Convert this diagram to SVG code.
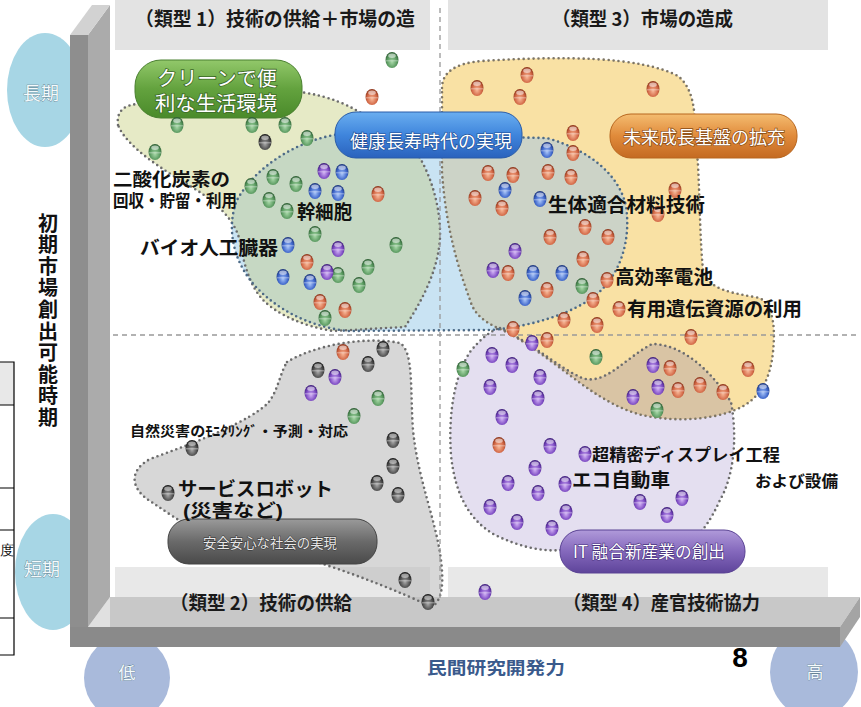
<svg xmlns="http://www.w3.org/2000/svg" xmlns:xlink="http://www.w3.org/1999/xlink" width="861" height="707" viewBox="0 0 861 707">
<style>
.hd{font-family:"Noto Sans CJK JP","Liberation Serif",sans-serif;font-weight:700;font-size:19px;fill:#1a1a1a}
.lb{font-family:"Noto Sans CJK JP",sans-serif;font-weight:700;fill:#111}
.lb2{font-family:"Liberation Sans","Noto Sans CJK JP",sans-serif;font-weight:700;fill:#111}
.pt{font-family:"Noto Sans CJK JP",sans-serif;fill:#ffffff;text-anchor:middle;paint-order:stroke}
.pt2{font-family:"Liberation Sans","Noto Sans CJK JP",sans-serif;fill:#ffffff;text-anchor:middle;paint-order:stroke}
.ax{font-family:"Noto Sans CJK JP",sans-serif;text-anchor:middle;fill:#f4fafc;stroke:#557788;stroke-width:.6;paint-order:stroke}
.dot{fill:none;stroke:#6c6c6c;stroke-width:2.6;stroke-linecap:round;stroke-dasharray:0 5}
.dash{stroke:#999;stroke-width:1.3;stroke-dasharray:5 4;fill:none}
.tbl{stroke:#000;stroke-width:1.2;fill:none}
</style>
<defs>
<path id="p-green" d="M118,125 C116,110 126,104 140,104 L300,92 C330,96 352,106 368,118 L415,150 C432,175 441,210 440,238 C438,272 421,302 405,327 L333,331 C303,326 278,315 263,300 C250,286 244,265 240,242 C236,220 214,200 190,186 C160,168 126,146 118,125 Z"/>
<path id="p-blue" d="M340,134 C298,140 256,166 237,200 C226,228 233,262 256,287 C277,309 307,326 347,331 L492,330 C532,326 572,314 596,295 C621,274 631,240 626,206 C619,175 591,151 547,138 Z"/>
<path id="p-yellow" d="M442,88 C442,72 456,63 482,61 C560,56 640,56 678,76 C693,88 695,110 695,130 L698,165 C700,205 700,240 703,270 C708,290 732,293 760,298 C775,308 775,332 773,352 C770,382 758,401 735,410 C708,421 668,422 638,414 C608,405 584,386 560,368 C540,353 520,338 500,329 C484,322 474,314 470,300 C459,270 446,230 442,172 Z"/>
<path id="p-purple" d="M500,328 C535,345 556,366 582,378 C605,386 625,358 652,344 C683,344 712,372 731,402 C738,440 733,478 720,500 C712,518 703,532 692,540 L562,550 C540,552 518,546 495,535 C470,521 455,495 451,455 C448,412 455,375 470,352 C481,338 492,330 500,328 Z"/>
<path id="p-gray" d="M287,362 C315,345 365,336 400,343 C414,352 410,390 413,430 C418,480 436,520 441,560 C444,585 442,600 432,607 C400,592 360,576 320,563 L200,532 C180,522 165,511 150,501 C131,489 128,471 150,459 C200,441 250,421 268,403 C278,391 280,373 287,362 Z"/>
<clipPath id="c-blue"><use href="#p-blue"/></clipPath>
<clipPath id="c-purple"><use href="#p-purple"/></clipPath>
<linearGradient id="lg-green" x1="0" y1="0" x2="0" y2="1"><stop offset="0" stop-color="#92c86a"/><stop offset=".5" stop-color="#63a23e"/><stop offset="1" stop-color="#4a8a2a"/></linearGradient>
<linearGradient id="lg-blue" x1="0" y1="0" x2="0" y2="1"><stop offset="0" stop-color="#6aaef0"/><stop offset=".5" stop-color="#3f85dc"/><stop offset="1" stop-color="#2a62bd"/></linearGradient>
<linearGradient id="lg-orange" x1="0" y1="0" x2="0" y2="1"><stop offset="0" stop-color="#f4bc70"/><stop offset=".5" stop-color="#e08a3a"/><stop offset="1" stop-color="#c46a22"/></linearGradient>
<linearGradient id="lg-gray" x1="0" y1="0" x2="0" y2="1"><stop offset="0" stop-color="#9a9a9a"/><stop offset=".5" stop-color="#6a6a6a"/><stop offset="1" stop-color="#4a4a4a"/></linearGradient>
<linearGradient id="lg-purple" x1="0" y1="0" x2="0" y2="1"><stop offset="0" stop-color="#b09ada"/><stop offset=".5" stop-color="#8468bc"/><stop offset="1" stop-color="#5e449a"/></linearGradient>
<radialGradient id="rg-g" cx=".5" cy=".62" r=".62"><stop offset="0" stop-color="#a8d8a8"/><stop offset=".6" stop-color="#5c9c62"/><stop offset="1" stop-color="#2c5c32"/></radialGradient>
<radialGradient id="rg-r" cx=".5" cy=".62" r=".62"><stop offset="0" stop-color="#f8b898"/><stop offset=".6" stop-color="#d46a48"/><stop offset="1" stop-color="#8a3218"/></radialGradient>
<radialGradient id="rg-b" cx=".5" cy=".62" r=".62"><stop offset="0" stop-color="#a8c4f8"/><stop offset=".6" stop-color="#4068cc"/><stop offset="1" stop-color="#1c3478"/></radialGradient>
<radialGradient id="rg-p" cx=".5" cy=".62" r=".62"><stop offset="0" stop-color="#d0b0f4"/><stop offset=".6" stop-color="#7e4cc4"/><stop offset="1" stop-color="#3c1c78"/></radialGradient>
<radialGradient id="rg-d" cx=".5" cy=".62" r=".62"><stop offset="0" stop-color="#a8a8a8"/><stop offset=".6" stop-color="#505050"/><stop offset="1" stop-color="#161616"/></radialGradient>
<g id="bg"><ellipse rx="6.5" ry="8" fill="url(#rg-g)"/><ellipse cy="-4.3" rx="3.8" ry="2.2" fill="#fff" fill-opacity=".55"/><path d="M-6.2 .8H6.2" stroke="#fff" stroke-opacity=".4" stroke-width="1.1"/></g>
<g id="br"><ellipse rx="6.5" ry="8" fill="url(#rg-r)"/><ellipse cy="-4.3" rx="3.8" ry="2.2" fill="#fff" fill-opacity=".55"/><path d="M-6.2 .8H6.2" stroke="#fff" stroke-opacity=".4" stroke-width="1.1"/></g>
<g id="bb"><ellipse rx="6.5" ry="8" fill="url(#rg-b)"/><ellipse cy="-4.3" rx="3.8" ry="2.2" fill="#fff" fill-opacity=".55"/><path d="M-6.2 .8H6.2" stroke="#fff" stroke-opacity=".4" stroke-width="1.1"/></g>
<g id="bp"><ellipse rx="6.5" ry="8" fill="url(#rg-p)"/><ellipse cy="-4.3" rx="3.8" ry="2.2" fill="#fff" fill-opacity=".55"/><path d="M-6.2 .8H6.2" stroke="#fff" stroke-opacity=".4" stroke-width="1.1"/></g>
<g id="bd"><ellipse rx="6.5" ry="8" fill="url(#rg-d)"/><ellipse cy="-4.3" rx="3.8" ry="2.2" fill="#fff" fill-opacity=".5"/><path d="M-6.2 .8H6.2" stroke="#fff" stroke-opacity=".45" stroke-width="1.1"/></g>
</defs>
<rect width="861" height="707" fill="#fff"/>

<!-- left table fragment -->
<g id="table">
<rect x="-2" y="362" width="16" height="43" fill="#e8e8e8"/>
<path class="tbl" d="M-2,362H14V655H-2M-2,405H14M-2,488H14M-2,530H14M-2,618H14"/>
<text x="0" y="555" font-family="Liberation Serif,serif" font-size="14" fill="#111">度</text>
</g>

<!-- axis ellipses -->
<g id="axis-long"><ellipse cx="45" cy="90" rx="38" ry="57" fill="#a7d6e5"/><text class="ax" x="41" y="100" font-size="18">長期</text></g>
<g id="axis-short"><ellipse cx="53" cy="572" rx="38" ry="58" fill="#a7d6e5"/><text class="ax" x="42" y="576" font-size="18">短期</text></g>
<g id="axis-low"><ellipse cx="127" cy="678" rx="43" ry="43" fill="#a9badb"/><text class="ax" x="127" y="679" font-size="17">低</text></g>
<g id="axis-high"><ellipse cx="814" cy="672" rx="44" ry="46" fill="#a9badb"/><text class="ax" x="815" y="678" font-size="17">高</text></g>

<!-- quadrant headers -->
<g id="headers">
<rect x="115" y="0" width="315" height="50" fill="#e3e3e3"/>
<rect x="448" y="0" width="380" height="50" fill="#e3e3e3"/>
<rect x="115" y="567" width="315" height="30" fill="#e8e8e8"/>
<rect x="448" y="567" width="380" height="30" fill="#e8e8e8"/>
<polygon points="110,597 860,597 840,627 110,627" fill="#c8c8c8"/>
<polygon points="88,627 110,597 110,627" fill="#e0e0e0"/>
</g>

<!-- regions -->
<g id="regions">
<use href="#p-green" fill="#e6eac6"/>
<use href="#p-yellow" fill="#f9e1a4"/>
<use href="#p-purple" fill="#e4dff0"/>
<use href="#p-yellow" fill="#d9c4a4" clip-path="url(#c-purple)"/>
<use href="#p-blue" fill="#c9e3f3"/>
<use href="#p-green" fill="#c6d8c3" clip-path="url(#c-blue)"/>
<use href="#p-yellow" fill="#ccd3c7" clip-path="url(#c-blue)"/>
<use href="#p-gray" fill="#bcbcbc" fill-opacity=".6"/>
<use href="#p-green" class="dot"/>
<use href="#p-yellow" class="dot" style="stroke:#7d7565"/>
<use href="#p-purple" class="dot"/>
<use href="#p-blue" class="dot" style="stroke:#4d6a86"/>
<use href="#p-gray" class="dot"/>
</g>

<!-- divider lines -->
<g id="connectors">
<path class="dash" d="M95,335H856"/>
<path class="dash" d="M440,8V600"/>
</g>

<!-- pills -->
<g id="pill-green">
<rect x="135" y="60" width="167" height="58" rx="26" fill="url(#lg-green)" stroke="#4a8030" stroke-width="1"/>
<text class="pt2" x="217" y="86" font-size="20" stroke="#3d6a28" stroke-width="1.6" textLength="120" lengthAdjust="spacingAndGlyphs">クリーンで便</text>
<text class="pt2" x="216" y="111" font-size="20" stroke="#3d6a28" stroke-width="1.6" textLength="122" lengthAdjust="spacingAndGlyphs">利な生活環境</text>
</g>
<g id="pill-blue">
<rect x="335" y="112" width="187" height="46" rx="21" fill="url(#lg-blue)" stroke="#2a5ca8" stroke-width="1"/>
<text class="pt" x="431" y="148" font-size="18" stroke="#1f4d94" stroke-width="1.2" textLength="162" lengthAdjust="spacingAndGlyphs">健康長寿時代の実現</text>
</g>
<g id="pill-orange">
<rect x="610" y="114" width="187" height="44" rx="21" fill="url(#lg-orange)" stroke="#b8661e" stroke-width="1"/>
<text class="pt" x="704" y="144" font-size="18" stroke="#8a4a14" stroke-width="1.4" textLength="162" lengthAdjust="spacingAndGlyphs">未来成長基盤の拡充</text>
</g>
<g id="pill-gray">
<rect x="168" y="519" width="209" height="45" rx="21" fill="url(#lg-gray)" stroke="#444" stroke-width="1"/>
<text class="pt" x="270" y="548" font-size="13.5" stroke="#333" stroke-width="1" textLength="134" lengthAdjust="spacingAndGlyphs" style="fill:#e8e8e8">安全安心な社会の実現</text>
</g>
<g id="pill-purple">
<rect x="560" y="530" width="185" height="43" rx="21" fill="url(#lg-purple)" stroke="#5a4294" stroke-width="1"/>
<text class="pt" x="649" y="558" font-size="17" stroke="#4a3480" stroke-width="1.2" textLength="152" lengthAdjust="spacingAndGlyphs">IT 融合新産業の創出</text>
</g>

<!-- balls -->
<g id="balls">
<use href="#bg" x="392" y="60"/><use href="#bg" x="177" y="125"/><use href="#bg" x="252" y="125"/><use href="#bg" x="285" y="125"/><use href="#bg" x="307" y="138"/><use href="#bg" x="155" y="152"/><use href="#bg" x="273" y="177"/><use href="#bg" x="296" y="184"/><use href="#bg" x="251" y="186"/><use href="#bg" x="269" y="200"/><use href="#bg" x="287" y="211"/><use href="#bg" x="315" y="234"/><use href="#bg" x="396" y="245"/><use href="#bg" x="368" y="267"/><use href="#bg" x="338" y="275"/><use href="#bg" x="359" y="285"/><use href="#bg" x="325" y="318"/><use href="#bg" x="378" y="398"/><use href="#bg" x="354" y="416"/><use href="#bg" x="582" y="286"/><use href="#bg" x="596" y="357"/><use href="#bg" x="463" y="369"/><use href="#bg" x="657" y="410"/>
<use href="#br" x="372" y="97"/><use href="#br" x="378" y="194"/><use href="#br" x="307" y="262"/><use href="#br" x="320" y="302"/><use href="#br" x="345" y="310"/><use href="#br" x="343" y="352"/><use href="#br" x="527" y="75"/><use href="#br" x="477" y="88"/><use href="#br" x="520" y="97"/><use href="#br" x="653" y="89"/><use href="#br" x="573" y="133"/><use href="#br" x="573" y="153"/><use href="#br" x="488" y="173"/><use href="#br" x="513" y="175"/><use href="#br" x="548" y="172"/><use href="#br" x="571" y="177"/><use href="#br" x="475" y="198"/><use href="#br" x="502" y="208"/><use href="#br" x="675" y="190"/><use href="#br" x="658" y="214"/><use href="#br" x="585" y="227"/><use href="#br" x="550" y="237"/><use href="#br" x="608" y="237"/><use href="#br" x="583" y="259"/><use href="#br" x="508" y="273"/><use href="#br" x="607" y="280"/><use href="#br" x="547" y="290"/><use href="#br" x="593" y="300"/><use href="#br" x="619" y="309"/><use href="#br" x="564" y="320"/><use href="#br" x="597" y="325"/><use href="#br" x="513" y="329"/><use href="#br" x="547" y="340"/><use href="#br" x="691" y="337"/><use href="#br" x="670" y="368"/><use href="#br" x="748" y="369"/><use href="#br" x="678" y="390"/><use href="#br" x="700" y="385"/><use href="#br" x="723" y="392"/><use href="#br" x="499" y="445"/>
<use href="#bb" x="342" y="172"/><use href="#bb" x="315" y="191"/><use href="#bb" x="338" y="193"/><use href="#bb" x="288" y="245"/><use href="#bb" x="283" y="277"/><use href="#bb" x="310" y="282"/><use href="#bb" x="547" y="150"/><use href="#bb" x="505" y="190"/><use href="#bb" x="540" y="199"/><use href="#bb" x="533" y="273"/><use href="#bb" x="562" y="273"/><use href="#bb" x="525" y="298"/><use href="#bb" x="763" y="391"/>
<use href="#bp" x="324" y="171"/><use href="#bp" x="338" y="249"/><use href="#bp" x="327" y="272"/><use href="#bp" x="335" y="377"/><use href="#bp" x="311" y="393"/><use href="#bp" x="515" y="251"/><use href="#bp" x="493" y="270"/><use href="#bp" x="532" y="343"/><use href="#bp" x="492" y="355"/><use href="#bp" x="512" y="365"/><use href="#bp" x="540" y="377"/><use href="#bp" x="653" y="365"/><use href="#bp" x="490" y="387"/><use href="#bp" x="658" y="387"/><use href="#bp" x="538" y="398"/><use href="#bp" x="633" y="397"/><use href="#bp" x="502" y="417"/><use href="#bp" x="550" y="446"/><use href="#bp" x="585" y="454"/><use href="#bp" x="535" y="468"/><use href="#bp" x="508" y="483"/><use href="#bp" x="538" y="493"/><use href="#bp" x="565" y="484"/><use href="#bp" x="640" y="502"/><use href="#bp" x="682" y="498"/><use href="#bp" x="490" y="507"/><use href="#bp" x="566" y="512"/><use href="#bp" x="667" y="515"/><use href="#bp" x="517" y="522"/><use href="#bp" x="552" y="528"/><use href="#bp" x="485" y="592"/>
<use href="#bd" x="265" y="142"/><use href="#bd" x="383" y="349"/><use href="#bd" x="368" y="364"/><use href="#bd" x="318" y="370"/><use href="#bd" x="192" y="448"/><use href="#bd" x="393" y="440"/><use href="#bd" x="393" y="466"/><use href="#bd" x="377" y="483"/><use href="#bd" x="398" y="495"/><use href="#bd" x="168" y="493"/><use href="#bd" x="405" y="580"/><use href="#bd" x="428" y="602"/>
</g>

<!-- labels -->
<g id="labels">
<text class="lb2" x="113" y="186" font-size="18" textLength="117" lengthAdjust="spacingAndGlyphs">二酸化炭素の</text>
<text class="lb2" x="113" y="207" font-size="17" textLength="124" lengthAdjust="spacingAndGlyphs">回収・貯留・利用</text>
<text class="lb" x="297" y="219" font-size="19" textLength="55" lengthAdjust="spacingAndGlyphs">幹細胞</text>
<text class="lb" x="140" y="255" font-size="19" textLength="138" lengthAdjust="spacingAndGlyphs">バイオ人工臓器</text>
<text class="lb" x="548" y="212" font-size="19.5" textLength="157" lengthAdjust="spacingAndGlyphs">生体適合材料技術</text>
<text class="lb" x="615" y="284" font-size="19" textLength="98" lengthAdjust="spacingAndGlyphs">高効率電池</text>
<text class="lb" x="627" y="316" font-size="19" textLength="175" lengthAdjust="spacingAndGlyphs">有用遺伝資源の利用</text>
<text class="lb" x="130" y="436" font-size="14" textLength="218" lengthAdjust="spacingAndGlyphs">自然災害のﾓﾆﾀﾘﾝｸﾞ・予測・対応</text>
<text class="lb2" x="178" y="496" font-size="19" textLength="155" lengthAdjust="spacingAndGlyphs">サービスロボット</text>
<text class="lb2" x="183" y="517" font-size="18" textLength="100" lengthAdjust="spacingAndGlyphs">(災害など)</text>
<text class="lb" x="592" y="461" font-size="17" textLength="188" lengthAdjust="spacingAndGlyphs">超精密ディスプレイ工程</text>
<text class="lb" x="572" y="487" font-size="19" textLength="98" lengthAdjust="spacingAndGlyphs">エコ自動車</text>
<text class="lb" x="755" y="487" font-size="16" textLength="83" lengthAdjust="spacingAndGlyphs">および設備</text>
</g>

<!-- header texts -->
<g id="header-texts">
<text class="hd" x="135" y="26" textLength="280" lengthAdjust="spacingAndGlyphs">（類型 1）技術の供給＋市場の造</text>
<text class="hd" x="552" y="26" textLength="181" lengthAdjust="spacingAndGlyphs">（類型 3）市場の造成</text>
<text class="hd" x="170" y="610" textLength="182" lengthAdjust="spacingAndGlyphs">（類型 2）技術の供給</text>
<text class="hd" x="563" y="610" textLength="197" lengthAdjust="spacingAndGlyphs">（類型 4）産官技術協力</text>
</g>

<!-- frame -->
<g id="frame">
<polygon points="88,35 110,5 110,597 88,627" fill="#ababab"/>
<polygon points="70,35 92,5 110,5 88,35" fill="#d2d2d2"/>
<rect x="70" y="35" width="18" height="612" fill="#8e8e8e"/>
<rect x="70" y="627" width="770" height="20" fill="#8a8a8a"/>
<polygon points="840,627 860,597 860,617 840,647" fill="#a4a4a4"/>
</g>

<!-- axis titles -->
<g id="axis-titles">
<text x="48" y="213" style="writing-mode:vertical-rl" letter-spacing="1.6" font-family="Noto Sans CJK JP,sans-serif" font-weight="700" font-size="20" fill="#111">初期市場創出可能時期</text>
<text x="427" y="674" font-family="Noto Sans CJK JP,sans-serif" font-weight="700" font-size="17" fill="#3a5a8c" textLength="138" lengthAdjust="spacingAndGlyphs">民間研究開発力</text>
<text x="740" y="667" font-family="Liberation Sans,sans-serif" font-weight="700" font-size="28" fill="#000" text-anchor="middle">8</text>
</g>
</svg>
